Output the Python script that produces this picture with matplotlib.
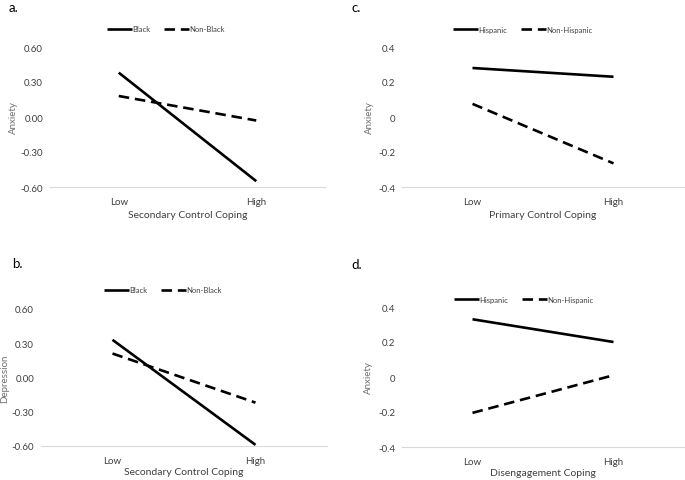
import matplotlib
matplotlib.use("Agg")
import matplotlib.pyplot as plt
from matplotlib.transforms import Affine2D

plt.rcParams['font.family'] = ['Lato', 'DejaVu Sans']

levels = ["Low", "High"]

# panel a: anxiety by secondary control coping
a_black = [0.38, -0.55]
a_nonblack = [0.18, -0.03]
# panel b: depression by secondary control coping
b_black = [0.33, -0.59]
b_nonblack = [0.21, -0.22]
# panel c: anxiety by primary control coping
c_hisp = [0.28, 0.23]
c_nonhisp = [0.075, -0.265]
# panel d: anxiety by disengagement coping
d_hisp = [0.33, 0.20]
d_nonhisp = [-0.205, 0.01]

ticks_06 = [-0.6, -0.3, 0.0, 0.3, 0.6]
ticks_04 = [-0.4, -0.2, 0.0, 0.2, 0.4]

W, H = 685, 481
fig = plt.figure(figsize=(W / 100, H / 100), dpi=100)
# pixel coords measured from the top-left corner
px = Affine2D().scale(1 / W, -1 / H).translate(0, 1) + fig.transFigure


def px_axes(x0, x1, ytop, ybot):
    return fig.add_axes([x0 / W, 1 - ybot / H, (x1 - x0) / W, (ybot - ytop) / H])


def panel(ax, s1, s2, names, ticks, fmt, ylab, ylab_x, xlab, xlab_y, leg_xy, tag, tag_xy):
    x = range(len(levels))
    ax.plot(x, s1, color="black", lw=1.9, solid_capstyle="butt", label=names[0])
    ax.plot(x, s2, color="black", lw=1.9, dashes=(4, 2.2), dash_capstyle="butt",
            label=names[1])
    ax.set_xlim(-0.5, 1.5)
    ax.set_ylim(ticks[0], ticks[-1])
    ax.set_xticks(list(x))
    ax.set_xticklabels(levels)
    ax.set_yticks(ticks)
    ax.set_yticklabels([fmt.format(t) if t != 0 or fmt != "{:g}" else "0" for t in ticks])
    for s in ["top", "right", "left"]:
        ax.spines[s].set_visible(False)
    ax.spines["bottom"].set_color("#d9d9d9")
    ax.spines["bottom"].set_linewidth(0.8)
    ax.tick_params(length=0, labelsize=7, colors="#404040", pad=5)
    ax.tick_params(axis="x", pad=7)
    ax.set_ylabel(ylab, fontsize=7, color="#6f6f6f", va="center")
    ax.set_xlabel(xlab, fontsize=7.5, color="#404040", va="center")
    x0, x1 = ax.get_position().x0 * W, ax.get_position().x1 * W
    yc = (1 - (ax.get_position().y0 + ax.get_position().y1) / 2) * H
    ax.yaxis.set_label_coords(ylab_x, yc, transform=px)
    ax.xaxis.set_label_coords((x0 + x1) / 2, xlab_y, transform=px)
    ax.legend(loc="center", bbox_to_anchor=(leg_xy[0] / W, 1 - leg_xy[1] / H),
              bbox_transform=fig.transFigure, ncol=2, frameon=False, fontsize=5.5,
              handlelength=3.2, handletextpad=0.1, columnspacing=1.8,
              labelcolor="#404040", borderpad=0)
    fig.text(tag_xy[0] / W, 1 - tag_xy[1] / H, tag, fontsize=9.5, va="center")


ax_a = px_axes(50, 325, 48, 188)
panel(ax_a, a_black, a_nonblack, ["Black", "Non-Black"], ticks_06, "{:.2f}",
      "Anxiety", 13, "Secondary Control Coping", 216, (166, 30), "a.", (9, 8))

ax_b = px_axes(41, 327, 310, 447)
panel(ax_b, b_black, b_nonblack, ["Black", "Non-Black"], ticks_06, "{:.2f}",
      "Depression", 5, "Secondary Control Coping", 473, (163, 291), "b.", (12, 264))

ax_c = px_axes(402, 684, 48, 188)
panel(ax_c, c_hisp, c_nonhisp, ["Hispanic", "Non-Hispanic"], ticks_04, "{:g}",
      "Anxiety", 369, "Primary Control Coping", 216, (523, 30), "c.", (351, 8))

ax_d = px_axes(402, 684, 308, 448)
panel(ax_d, d_hisp, d_nonhisp, ["Hispanic", "Non-Hispanic"], ticks_04, "{:g}",
      "Anxiety", 368, "Disengagement Coping", 474, (524, 300), "d.", (351, 265))

fig.savefig("out.png", dpi=100)
